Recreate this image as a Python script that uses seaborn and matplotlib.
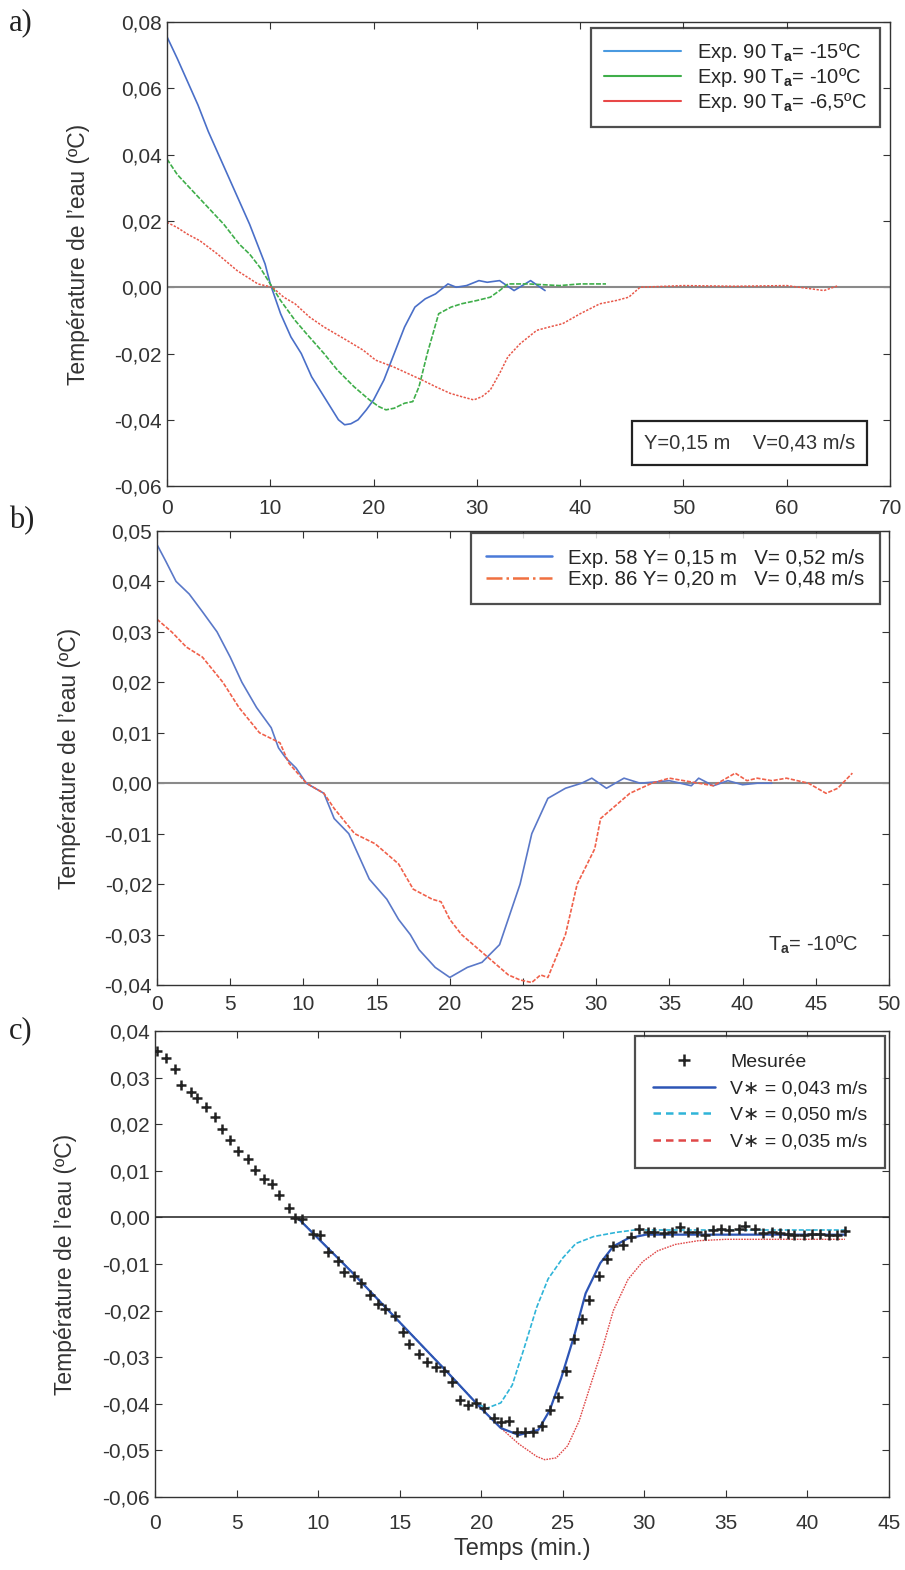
import numpy as np
import pandas as pd
import seaborn as sns
import matplotlib.pyplot as plt
from matplotlib.lines import Line2D
from matplotlib.ticker import FuncFormatter, MultipleLocator

# ---- panel a : Exp. 90, three air temperatures ----
a_blue_t = [0, 1, 2, 3, 4, 5, 6, 7, 8, 9, 9.5, 10, 11, 12, 13, 14, 15, 16, 16.6, 17.2, 17.8, 18.5, 19.3, 20, 21, 22, 23, 24, 25, 26, 27.2, 28, 29, 30.2, 31, 32.2, 33.6, 35.2, 36.6]
a_blue_v = [0.0756, 0.069, 0.062, 0.055, 0.047, 0.040, 0.033, 0.026, 0.019, 0.011, 0.007, 0.001, -0.008, -0.015, -0.020, -0.027, -0.032, -0.037, -0.040, -0.0415, -0.0412, -0.040, -0.037, -0.034, -0.028, -0.020, -0.012, -0.006, -0.0035, -0.002, 0.001, 0.0, 0.0005, 0.002, 0.0015, 0.002, -0.001, 0.002, -0.001]

a_green_t = [0, 1, 2.5, 4, 5.5, 7, 8, 9, 10, 11, 12.4, 13.5, 15.2, 16.5, 18.1, 19.6, 20.5, 21.2, 22, 23, 23.8, 24.4, 25.2, 26.3, 27.5, 28.5, 30, 31.3, 32.2, 33, 35, 38, 40, 42.5]
a_green_v = [0.0387, 0.034, 0.029, 0.024, 0.019, 0.013, 0.010, 0.006, 0.001, -0.004, -0.010, -0.014, -0.020, -0.025, -0.030, -0.034, -0.036, -0.037, -0.0365, -0.035, -0.0345, -0.030, -0.020, -0.008, -0.006, -0.005, -0.004, -0.003, -0.001, 0.001, 0.001, 0.0005, 0.001, 0.001]

a_red_t = [0, 1, 2, 3.2, 4.9, 6.8, 8.8, 10.2, 11.3, 12.4, 13.8, 15.2, 17.4, 19, 20.2, 21.9, 23.3, 24.7, 26, 27.4, 28.5, 29.7, 30.5, 31.3, 32.2, 33, 34.2, 35.8, 37, 38.3, 40, 41.9, 43.5, 44.7, 45.8, 50, 55, 60, 63.6, 65]
a_red_v = [0.0196, 0.018, 0.016, 0.014, 0.010, 0.005, 0.001, 0.0, -0.003, -0.005, -0.009, -0.012, -0.016, -0.019, -0.022, -0.024, -0.026, -0.028, -0.030, -0.032, -0.033, -0.034, -0.033, -0.031, -0.026, -0.021, -0.017, -0.013, -0.012, -0.011, -0.008, -0.005, -0.004, -0.003, 0.0, 0.0005, 0.0003, 0.0005, -0.001, 0.0005]

# ---- panel b : Exp. 58 and Exp. 86 ----
b_blue_t = [0, 0.6, 1.3, 2.2, 3.1, 4.1, 5.0, 5.8, 6.8, 7.8, 8.3, 8.8, 9.5, 10.2, 10.8, 11.4, 12.1, 13.1, 14.5, 15.7, 16.5, 17.3, 17.9, 19, 20, 21.2, 22.2, 23.4, 24.1, 24.8, 25.6, 26.7, 27.9, 29, 29.7, 30.7, 31.9, 33, 35, 36.5, 37, 38, 39, 40, 41, 42]
b_blue_v = [0.0473, 0.044, 0.040, 0.0375, 0.034, 0.030, 0.025, 0.020, 0.015, 0.011, 0.007, 0.005, 0.003, 0.0, -0.001, -0.002, -0.007, -0.010, -0.019, -0.023, -0.027, -0.030, -0.033, -0.0365, -0.0385, -0.0365, -0.0355, -0.032, -0.026, -0.020, -0.010, -0.003, -0.001, 0.0, 0.001, -0.001, 0.001, 0.0, 0.0005, -0.0005, 0.001, -0.0005, 0.0005, -0.0003, 0.0, 0.0]

b_red_t = [0, 1, 2, 3.1, 4.5, 5.6, 7.0, 8.4, 9, 10.2, 11.4, 12.1, 13.5, 14.9, 16.5, 17.5, 18.8, 19.4, 20, 20.8, 22.4, 24, 24.8, 25.6, 26.2, 26.7, 27.9, 28.7, 29.9, 30.3, 31.5, 32.3, 33.8, 35, 37, 38, 39.5, 40.3, 41, 42, 43, 44.5, 45.7, 46.5, 47.5]
b_red_v = [0.0325, 0.030, 0.027, 0.025, 0.020, 0.015, 0.010, 0.008, 0.004, 0.0, -0.002, -0.005, -0.010, -0.012, -0.016, -0.021, -0.023, -0.0235, -0.027, -0.030, -0.034, -0.038, -0.039, -0.0395, -0.038, -0.0385, -0.030, -0.020, -0.013, -0.007, -0.004, -0.002, 0.0, 0.001, 0.0, -0.0005, 0.002, 0.0005, 0.001, 0.0005, 0.001, 0.0, -0.002, -0.001, 0.002]

# ---- panel c : measured vs. model ----
c_meas_t = [0.1, 0.7, 1.2, 1.6, 2.2, 2.6, 3.1, 3.7, 4.1, 4.6, 5.1, 5.7, 6.1, 6.7, 7.2, 7.6, 8.2, 8.6, 9.0, 9.7,
            10.1, 10.6, 11.2, 11.6, 12.2, 12.6, 13.2, 13.7, 14.1, 14.7, 15.2, 15.6, 16.2, 16.7, 17.2, 17.7, 18.2, 18.7, 19.2, 19.7,
            20.2, 20.8, 21.2, 21.7, 22.2, 22.7, 23.2, 23.7, 24.2, 24.7, 25.2, 25.7, 26.2, 26.6, 27.2, 27.7, 28.1, 28.7, 29.2, 29.7,
            30.2, 30.6, 31.2, 31.7, 32.2, 32.7, 33.2, 33.7, 34.2, 34.7, 35.2, 35.8, 36.2, 36.8, 37.3, 37.8, 38.3, 38.8, 39.2, 39.8,
            40.3, 40.8, 41.3, 41.8, 42.3]
c_meas_v = [0.0358, 0.0343, 0.0318, 0.0284, 0.0269, 0.0256, 0.0236, 0.0216, 0.019, 0.0166, 0.0143, 0.0126, 0.0102, 0.0082, 0.0071, 0.0049, 0.002, -0.0002, -0.0003, -0.0035,
            -0.0037, -0.0075, -0.0093, -0.0117, -0.0125, -0.0141, -0.0167, -0.0186, -0.0197, -0.0212, -0.0246, -0.0271, -0.0293, -0.0311, -0.0322, -0.033, -0.0353, -0.0392, -0.0402, -0.0398,
            -0.041, -0.0431, -0.044, -0.0437, -0.0461, -0.046, -0.046, -0.0448, -0.0413, -0.0386, -0.033, -0.026, -0.0217, -0.0178, -0.0125, -0.0089, -0.0062, -0.006, -0.0041, -0.0024,
            -0.0032, -0.0032, -0.0033, -0.0032, -0.0021, -0.0032, -0.0032, -0.0037, -0.0026, -0.0024, -0.0026, -0.0024, -0.0018, -0.0024, -0.0033, -0.0032, -0.0033, -0.0036, -0.0037, -0.0037,
            -0.0035, -0.0036, -0.0037, -0.0037, -0.003]

c_m043_t = [8.8, 12, 15, 18, 20, 21.2, 22.3, 23.5, 24.2, 24.9, 25.7, 26.4, 27.3, 28.1, 29.0, 30.1, 35, 42.3]
c_m043_v = [-0.0003, -0.0115, -0.0225, -0.0335, -0.041, -0.0452, -0.0467, -0.0456, -0.0414, -0.0345, -0.0254, -0.0163, -0.0098, -0.0062, -0.0045, -0.0037, -0.0037, -0.0037]

c_m050_t = [8.8, 12, 15, 18, 19.6, 20.3, 21.2, 21.9, 22.6, 23.4, 24.1, 25.0, 25.8, 26.9, 28.3, 29.4, 35, 42.3]
c_m050_v = [-0.0003, -0.0115, -0.0225, -0.0335, -0.0395, -0.041, -0.0398, -0.036, -0.0284, -0.0193, -0.0132, -0.0087, -0.0056, -0.0041, -0.0032, -0.0027, -0.0027, -0.0027]

c_m035_t = [8.8, 12, 15, 18, 20, 21.2, 22.3, 23.4, 23.9, 24.6, 25.3, 26.0, 26.7, 27.4, 28.1, 29.0, 29.9, 30.8, 31.9, 33.3, 35, 42.3]
c_m035_v = [-0.0003, -0.0115, -0.0225, -0.0335, -0.041, -0.0452, -0.0486, -0.0513, -0.052, -0.0516, -0.049, -0.0437, -0.036, -0.0285, -0.02, -0.0133, -0.0095, -0.0072, -0.0058, -0.005, -0.0047, -0.0047]

sns.set_style("ticks")
plt.rcParams['font.family'] = ['Liberation Sans Narrow', 'Liberation Sans', 'DejaVu Sans']
plt.rcParams['mathtext.fontset'] = 'custom'
plt.rcParams['mathtext.rm'] = 'Liberation Sans'
plt.rcParams['mathtext.bf'] = 'Liberation Sans:bold'
plt.rcParams['xtick.direction'] = 'in'
plt.rcParams['ytick.direction'] = 'in'

fig = plt.figure(figsize=(9.05, 15.70), dpi=100)
ax1 = fig.add_axes([0.1845, 0.6904, 0.799, 0.2955])
ax2 = fig.add_axes([0.1735, 0.3726, 0.8088, 0.2892])
ax3 = fig.add_axes([0.1713, 0.0465, 0.811, 0.2968])

comma = FuncFormatter(lambda v, p: f"{v:.2f}".replace('.', ',').replace('-0,00', '0,00'))
ylab = "Température de l\u2019eau (ºC)"
sans = ['Liberation Sans', 'DejaVu Sans']


def style(ax, xmax, xstep, ymin, ymax, ystep, labx, xpad):
    ax.set_xlim(0, xmax)
    ax.set_ylim(ymin, ymax)
    ax.xaxis.set_major_locator(MultipleLocator(xstep))
    ax.yaxis.set_major_locator(MultipleLocator(ystep))
    ax.yaxis.set_major_formatter(comma)
    ax.tick_params(top=True, right=True, labelsize=15, length=5, width=0.8, colors='#333333')
    ax.tick_params(axis='x', pad=xpad)
    for s in ax.spines.values():
        s.set_visible(True)
        s.set_color('#333333')
        s.set_linewidth(1.0)
    ax.set_ylabel(ylab, fontsize=16.5, family=sans, color='#333333')
    ax.yaxis.set_label_coords(labx, 0.5)
    ax.set_xlabel('')


# panel a
ax1.axhline(0, color='#8a8a8a', lw=1.5, zorder=1)
sns.lineplot(x=a_blue_t, y=a_blue_v, ax=ax1, color='#4a6fc8', lw=1.2, sort=False)
sns.lineplot(x=a_green_t, y=a_green_v, ax=ax1, color='#3fae4a', lw=1.2, sort=False)
ax1.lines[-1].set_dashes([3, 1])
sns.lineplot(x=a_red_t, y=a_red_v, ax=ax1, color='#e8584a', lw=1.1, sort=False)
ax1.lines[-1].set_dashes([1.5, 1])
style(ax1, 70, 10, -0.06, 0.08, 0.02, -0.106, 9)
h1 = [Line2D([], [], color='#4a9ae0', lw=1.5), Line2D([], [], color='#3fae4a', lw=1.5),
      Line2D([], [], color='#e84848', lw=1.5)]
l1 = ["Exp. 90 T$_\\mathbf{a}$= -15ºC", "Exp. 90 T$_\\mathbf{a}$= -10ºC", "Exp. 90 T$_\\mathbf{a}$= -6,5ºC"]
leg = ax1.legend(h1, l1, loc='upper right', bbox_to_anchor=(0.986, 0.987), borderaxespad=0, handlelength=3.8,
                 frameon=True, fancybox=False, edgecolor='#222222', borderpad=0.65, labelspacing=0.1,
                 prop={'family': sans, 'size': 14.5})
leg.get_frame().set_linewidth(1.6)
ax1.text(0.806, 0.093, "Y=0,15 m    V=0,43 m/s", transform=ax1.transAxes, ha='center', va='center',
         fontsize=14.5, color='#333333', family=sans,
         bbox=dict(boxstyle='square,pad=0.6', fc='white', ec='#222222', lw=1.6))

# panel b
ax2.axhline(0, color='#8a8a8a', lw=1.5, zorder=1)
sns.lineplot(x=b_blue_t, y=b_blue_v, ax=ax2, color='#5a78c8', lw=1.2, sort=False)
sns.lineplot(x=b_red_t, y=b_red_v, ax=ax2, color='#f0604a', lw=1.2, sort=False)
ax2.lines[-1].set_dashes([2.5, 1])
style(ax2, 50, 5, -0.04, 0.05, 0.01, -0.104, 7)
h2 = [Line2D([], [], color='#4a7ad8', lw=1.8), Line2D([], [], color='#f07040', lw=1.8, ls='-.')]
l2 = ["Exp. 58 Y= 0,15 m   V= 0,52 m/s", "Exp. 86 Y= 0,20 m   V= 0,48 m/s"]
leg = ax2.legend(h2, l2, loc='upper right', bbox_to_anchor=(0.988, 0.995), borderaxespad=0, handlelength=3.2,
                 frameon=True, fancybox=False, edgecolor='#222222', borderpad=0.75, labelspacing=0.1,
                 prop={'family': sans, 'size': 14.8})
leg.get_frame().set_linewidth(1.6)
ax2.text(0.958, 0.088, "T$_\\mathbf{a}$= -10ºC", transform=ax2.transAxes, ha='right', va='center',
         fontsize=14.5, color='#333333', family=sans)

# panel c
ax3.axhline(0, color='#303030', lw=1.2, zorder=1)
sns.lineplot(x=c_m050_t, y=c_m050_v, ax=ax3, color='#2fb4d8', lw=1.2, sort=False)
ax3.lines[-1].set_dashes([3, 1.2])
sns.lineplot(x=c_m035_t, y=c_m035_v, ax=ax3, color='#e04848', lw=1.0, sort=False)
ax3.lines[-1].set_dashes([1.2, 0.8])
sns.lineplot(x=c_m043_t, y=c_m043_v, ax=ax3, color='#2d55b5', lw=1.6, sort=False)
sns.scatterplot(x=c_meas_t, y=c_meas_v, ax=ax3, marker='+', s=60, color='#222222', linewidth=1.8, zorder=5)
style(ax3, 45, 5, -0.06, 0.04, 0.01, -0.106, 12)
ax3.set_xlabel("Temps (min.)", fontsize=17, family=sans, color='#333333', labelpad=4)
h3 = [Line2D([], [], color='#222222', marker='+', ls='none', markersize=8, mew=1.8),
      Line2D([], [], color='#2d55b5', lw=1.8),
      Line2D([], [], color='#2fb4d8', lw=1.8, dashes=[3, 2]),
      Line2D([], [], color='#e04848', lw=1.8, dashes=[3, 2])]
l3 = ["Mesurée", "V\u2217 = 0,043 m/s", "V\u2217 = 0,050 m/s", "V\u2217 = 0,035 m/s"]
leg = ax3.legend(h3, l3, loc='upper right', bbox_to_anchor=(0.995, 0.989), borderaxespad=0, handlelength=3.2,
                 frameon=True, fancybox=False, edgecolor='#222222', borderpad=0.9, labelspacing=0.45,
                 prop={'family': sans, 'size': 14})
leg.get_frame().set_linewidth(1.6)

for lab, y in [('a)', 0.995), ('b)', 0.678), ('c)', 0.353)]:
    fig.text(0.01, y, lab, fontsize=22, family='Liberation Serif', va='top', ha='left', color='#222222')

fig.savefig("out.png", dpi=100, facecolor='white')
